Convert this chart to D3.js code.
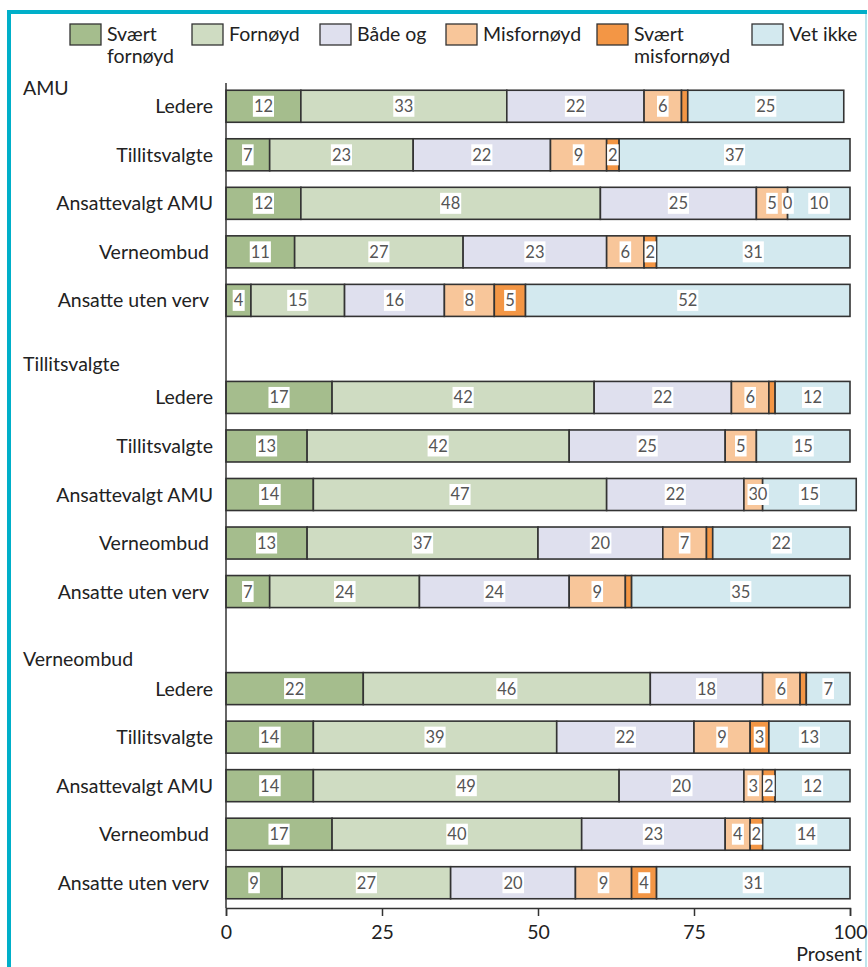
<!DOCTYPE html>
<html>
<head>
<meta charset="utf-8">
<script src="https://cdn.jsdelivr.net/npm/d3@7"></script>
<style>
  html, body { margin: 0; padding: 0; background: #fff; }
  svg { display: block; }
  text { font-family: Lato, "Noto Sans", sans-serif; }
</style>
</head>
<body>
<svg id="chart" width="868" height="967"></svg>
<script>
// Satisfaction with the working environment committee, by respondent group (percent)
const groups = ["AMU", "Tillitsvalgte", "Verneombud"];
const respondents = ["Ledere", "Tillitsvalgte", "Ansattevalgt AMU", "Verneombud", "Ansatte uten verv"];
const categories = ["Svært fornøyd", "Fornøyd", "Både og", "Misfornøyd", "Svært misfornøyd", "Vet ikke"];
const legendLines = [["Svært", "fornøyd"], ["Fornøyd"], ["Både og"], ["Misfornøyd"], ["Svært", "misfornøyd"], ["Vet ikke"]];

// one value per bar, groups in order AMU, Tillitsvalgte, Verneombud
const svaertFornoyd    = [12, 7, 12, 11, 4,   17, 13, 14, 13, 7,   22, 14, 14, 17, 9];
const fornoyd          = [33, 23, 48, 27, 15,  42, 42, 47, 37, 24,  46, 39, 49, 40, 27];
const badeOg           = [22, 22, 25, 23, 16,  22, 25, 22, 20, 24,  18, 22, 20, 23, 20];
const misfornoyd       = [6, 9, 5, 6, 8,       6, 5, 3, 7, 9,       6, 9, 3, 4, 9];
const svaertMisfornoyd = [1, 2, 0, 2, 5,       1, null, 0, 1, 1,    1, 3, 2, 2, 4];
const vetIkke          = [25, 37, 10, 31, 52,  12, 15, 15, 22, 35,  7, 13, 12, 14, 31];
const xTicks = [0, 25, 50, 75, 100];

const series = [svaertFornoyd, fornoyd, badeOg, misfornoyd, svaertMisfornoyd, vetIkke];
const colors = ["#a5bd8d", "#cfdcc2", "#dfe0ee", "#f8c69a", "#f39645", "#d3e9ef"];

const W = 868, H = 967;
const FS = 19.5;
const svg = d3.select("#chart");

// frame
svg.append("rect").attr("width", W).attr("height", H).attr("fill", "#fff");
svg.append("line").attr("x1", 866).attr("x2", 866).attr("y1", 12).attr("y2", H)
  .attr("stroke", "#a9dde6").attr("stroke-width", 1.5);
svg.append("line").attr("x1", 7).attr("x2", 867).attr("y1", 12).attr("y2", 12)
  .attr("stroke", "#00afc9").attr("stroke-width", 4);
svg.append("line").attr("x1", 9).attr("x2", 9).attr("y1", 10).attr("y2", H)
  .attr("stroke", "#00afc9").attr("stroke-width", 4);

// rows: 5 per group, with an empty slot between groups
const rows = [];
groups.forEach((g, gi) => {
  respondents.forEach((r, ri) => {
    rows.push({ group: g, label: r, slot: gi * 6 + ri, idx: gi * 5 + ri });
  });
});
const slots = d3.range(17);

const x = d3.scaleLinear().domain([0, 100]).range([226, 850]);
const y = d3.scaleBand().domain(slots).range([82, 907]).paddingInner(0.34).paddingOuter(0.17);

// stacked segments
rows.forEach(row => {
  let acc = 0;
  row.segs = series.map((s, k) => {
    const v = s[row.idx];
    const x0 = acc;
    acc += (v == null ? 0 : v);
    return { k, v, x0, x1: acc };
  });
});

const rowG = svg.append("g").selectAll("g").data(rows).join("g")
  .attr("transform", d => `translate(0,${y(d.slot)})`);

rowG.selectAll("rect.seg").data(d => d.segs.filter(s => s.v)).join("rect")
  .attr("class", "seg")
  .attr("x", s => x(s.x0))
  .attr("width", s => x(s.x1) - x(s.x0))
  .attr("y", 0)
  .attr("height", y.bandwidth())
  .attr("fill", s => colors[s.k])
  .attr("stroke", "#333")
  .attr("stroke-width", 1.6);

// value labels on white boxes
const lab = rowG.selectAll("g.lab").data(d => d.segs.filter(s => s.v != null && s.v !== 1)).join("g")
  .attr("class", "lab")
  .attr("transform", s => `translate(${x((s.x0 + s.x1) / 2)},${y.bandwidth() / 2})`);
lab.append("text")
  .attr("text-anchor", "middle")
  .attr("dy", "0.36em")
  .attr("font-size", 16.5)
  .attr("fill", "#555")
  .text(s => s.v);
lab.each(function () {
  const g = d3.select(this);
  const bb = g.select("text").node().getBBox();
  g.insert("rect", "text")
    .attr("x", bb.x - 1).attr("width", bb.width + 2)
    .attr("y", -10.5).attr("height", 21)
    .attr("fill", "#fff");
});

// row labels
svg.append("g").selectAll("text").data(rows).join("text")
  .attr("x", d => (d.label === "Verneombud" || d.label === "Ansatte uten verv") ? 209 : 213)
  .attr("y", d => y(d.slot) + y.bandwidth() / 2)
  .attr("dy", "0.36em")
  .attr("text-anchor", "end")
  .attr("font-size", FS)
  .attr("fill", "#222")
  .text(d => d.label);

// group headers
const headerShift = [5, -10, -7];
svg.append("g").selectAll("text").data(groups).join("text")
  .attr("x", 23)
  .attr("y", (g, i) => y(i * 6) + headerShift[i])
  .attr("font-size", FS)
  .attr("fill", "#222")
  .text(g => g);

// axes
svg.append("line").attr("x1", x(0)).attr("x2", x(0)).attr("y1", 83).attr("y2", 908)
  .attr("stroke", "#333").attr("stroke-width", 1.5);
const xAxis = svg.append("g").attr("transform", "translate(0,908)")
  .call(d3.axisBottom(x).tickValues(xTicks).tickSize(8).tickPadding(9).tickFormat(d3.format("d")));
xAxis.select(".domain").attr("stroke", "#333").attr("stroke-width", 1.5);
xAxis.selectAll(".tick line").attr("stroke", "#333").attr("stroke-width", 1.5);
xAxis.selectAll(".tick text").attr("font-size", FS).attr("fill", "#222")
  .attr("font-family", "Lato, 'Noto Sans', sans-serif");
svg.append("text").attr("x", 862).attr("y", 961).attr("text-anchor", "end")
  .attr("font-size", FS).attr("fill", "#222").text("Prosent");

// legend
const legendX = [70, 192, 320, 446, 597, 752];
const leg = svg.append("g").selectAll("g").data(categories).join("g")
  .attr("transform", (c, i) => `translate(${legendX[i]},24)`);
leg.append("rect").attr("width", 31).attr("height", 21)
  .attr("fill", (c, i) => colors[i]).attr("stroke", "#333").attr("stroke-width", 1.3);
leg.append("text").attr("x", 37).attr("y", 17).attr("font-size", FS).attr("fill", "#222")
  .selectAll("tspan").data((c, i) => legendLines[i]).join("tspan")
  .attr("x", 37).attr("dy", (t, j) => j ? 21.5 : 0).text(t => t);
</script>
</body>
</html>
